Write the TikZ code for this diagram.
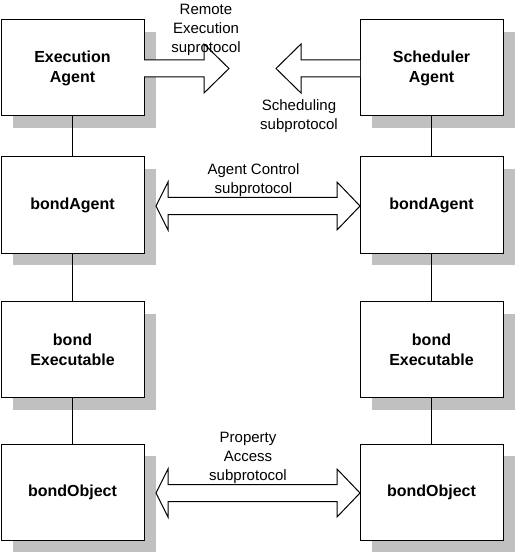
\documentclass[tikz,border=0pt]{standalone}
\usepackage{fontspec}
\setmainfont{Liberation Sans}
\usetikzlibrary{shadows}
\definecolor{shadowgray}{RGB}{192,192,192}
\begin{document}
\begin{tikzpicture}[x=1pt,y=-1pt,line width=1pt,
  box/.style={draw=black,fill=white,minimum width=143pt,minimum height=96pt,inner sep=0pt,
    align=center,font=\fontsize{16}{20}\selectfont\bfseries,
    general shadow={shadow xshift=12pt,shadow yshift=-12pt,fill=shadowgray,draw=none}},
  lbl/.style={align=center,inner sep=0pt,font=\fontsize{15}{19}\selectfont},
  blockarrow/.style={draw=black,fill=white,line width=1pt,line join=miter}]
\useasboundingbox (0,0) rectangle (517,553);
% boxes
\node[box] (ea) at (72.5,68) {Execution\\Agent};
\node[box] (sa) at (431.5,68) {Scheduler\\Agent};
\node[box] (ba1) at (72.5,205) {bondAgent};
\node[box] (ba2) at (431.5,205) {bondAgent};
\node[box] (be1) at (72.5,349.5) {bond\\Executable};
\node[box] (be2) at (431.5,349.5) {bond\\Executable};
\node[box] (bo1) at (72.5,492) {bondObject};
\node[box] (bo2) at (431.5,492) {bondObject};
% vertical connectors
\draw (ea.south) -- (ba1.north);
\draw (ba1.south) -- (be1.north);
\draw (be1.south) -- (bo1.north);
\draw (sa.south) -- (ba2.north);
\draw (ba2.south) -- (be2.north);
\draw (be2.south) -- (bo2.north);
% block arrows
\draw[blockarrow] (144,60) -- (204,60) -- (204,44) -- (229,68.5) -- (204,93) -- (204,77) -- (144,77);
\draw[blockarrow] (360,60) -- (301,60) -- (301,44) -- (276,68.5) -- (301,93) -- (301,77) -- (360,77);
\draw[blockarrow] (156,206) -- (168,182) -- (168,197.5) -- (337,197.5) -- (337,182) -- (360,206)
  -- (337,230) -- (337,214.5) -- (168,214.5) -- (168,230) -- cycle;
\draw[blockarrow] (156,493) -- (168,469) -- (168,484.5) -- (337,484.5) -- (337,469) -- (360,493)
  -- (337,517) -- (337,501.5) -- (168,501.5) -- (168,517) -- cycle;
% labels
\node[lbl] (l1) at (206,30) {Remote\\Execution\\suprotocol};
\node[lbl] (l2) at (299,116) {Scheduling\\subprotocol};
\node[lbl] (l3) at (253.5,180) {Agent Control\\subprotocol};
\node[lbl] (l4) at (248,458) {Property\\Access\\subprotocol};
\end{tikzpicture}
\end{document}
